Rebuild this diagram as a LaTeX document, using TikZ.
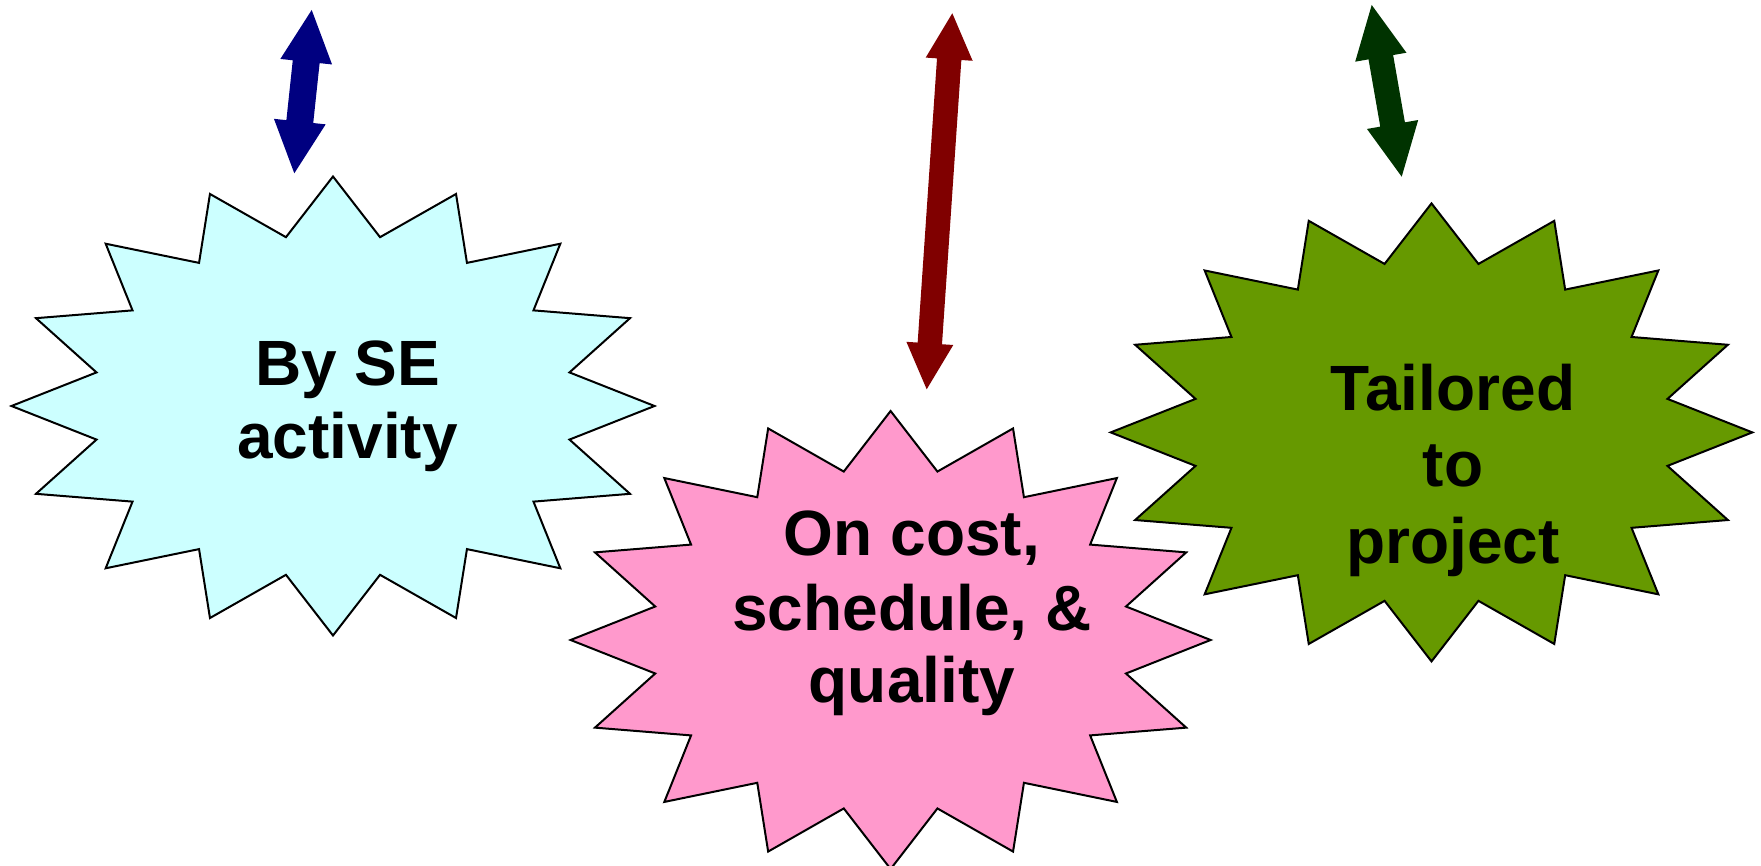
\documentclass[tikz,border=0pt]{standalone}
\usepackage{fontspec}
\setmainfont{Liberation Sans}
\usetikzlibrary{calc}
\definecolor{cyanfill}{HTML}{CCFFFF}
\definecolor{pinkfill}{HTML}{FF99CC}
\definecolor{greenfill}{HTML}{669900}
\definecolor{navyarrow}{HTML}{000080}
\definecolor{redarrow}{HTML}{800000}
\definecolor{greenarrow}{HTML}{003300}
\tikzset{
  burststyle/.style={draw=black, line width=2pt, line join=miter},
  label/.style={anchor=base, inner sep=0pt, font=\fontsize{64}{74}\selectfont\bfseries},
}
\newcommand\burst[5]{%
  \draw[burststyle, fill=#5] plot[domain=0:31, samples=32]
   ({#1+#3*(1-0.25*mod(\x,2))*cos(\x*11.25)},{#2+#4*(1-0.25*mod(\x,2))*sin(\x*11.25)}) -- cycle;}
% #1 colour, #2 start, #3 end, #4 shaft half width, #5 head half width, #6 head length
\newcommand\dblarrow[6]{%
  \fill[#1] (#2)
   -- ($(#2)!#6!(#3)!#5!90:(#3)$)
   -- ($(#2)!#6!(#3)!#4!90:(#3)$)
   -- ($(#3)!#6!(#2)!#4!-90:(#2)$)
   -- ($(#3)!#6!(#2)!#5!-90:(#2)$)
   -- (#3)
   -- ($(#3)!#6!(#2)!#5!90:(#2)$)
   -- ($(#3)!#6!(#2)!#4!90:(#2)$)
   -- ($(#2)!#6!(#3)!#4!-90:(#3)$)
   -- ($(#2)!#6!(#3)!#5!-90:(#3)$)
   -- cycle;}
\begin{document}
\begin{tikzpicture}[x=1pt,y=-1pt]
\useasboundingbox (0,0) rectangle (1761,866);
% starbursts
\burst{333}{406}{321.5}{229.5}{cyanfill}
\burst{890.6}{640}{320}{229}{pinkfill}
\burst{1431.5}{432.4}{320.8}{229}{greenfill}
% texts
\node[label] (t1a) at (347.5,385) {By SE};
\node[label] (t1b) at (347.5,458.3) {activity};
\node[label] (t2a) at (912,555) {On cost,};
\node[label] (t2b) at (912,630) {schedule, \&};
\node[label] (t2c) at (912,702) {quality};
\node[label] (t3a) at (1453,410) {Tailored};
\node[label] (t3b) at (1453,486.7) {to};
\node[label] (t3c) at (1453,563) {project};
% arrow end points
\coordinate (b1) at (311.7,10);
\coordinate (e1) at (294.3,173.3);
\coordinate (b2) at (952.3,13.3);
\coordinate (e2) at (926.7,389.3);
\coordinate (b3) at (1371.7,5);
\coordinate (e3) at (1401.7,176.7);
\dblarrow{navyarrow}{b1}{e1}{13.5pt}{26pt}{52pt}
\dblarrow{redarrow}{b2}{e2}{12.2pt}{23.5pt}{46pt}
\dblarrow{greenarrow}{b3}{e3}{12.5pt}{26pt}{53pt}
\end{tikzpicture}
\end{document}
